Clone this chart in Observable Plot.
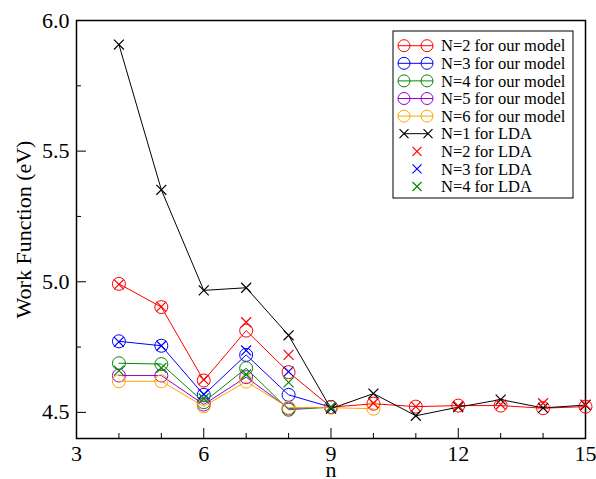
<!DOCTYPE html>
<html>
<head>
<meta charset="utf-8">
<script src="https://cdn.jsdelivr.net/npm/d3@7"></script>
<script src="https://cdn.jsdelivr.net/npm/@observablehq/plot@0.6"></script>
<style>
  html, body { margin: 0; padding: 0; background: white; }
  #chart svg { display: block; }
</style>
</head>
<body>
<div id="chart"></div>
<script>
// ---- data ----
const ns = [4, 5, 6, 7, 8, 9, 10, 11, 12, 13, 14, 15];
const model_N2 = [4.992, 4.903, 4.622, 4.813, 4.654, 4.520, 4.533, 4.522, 4.526, 4.526, 4.516, 4.522];
const model_N3 = [4.772, 4.755, 4.567, 4.720, 4.567, 4.520];
const model_N4 = [4.688, 4.685, 4.539, 4.669, 4.510, 4.520];
const model_N5 = [4.641, 4.641, 4.530, 4.635, 4.515, 4.520];
const model_N6 = [4.619, 4.619, 4.523, 4.618, 4.518, 4.518, 4.514];
const lda_N1 = [5.908, 5.352, 4.967, 4.977, 4.795, 4.514, 4.572, 4.487, 4.520, 4.549, 4.517, 4.528];
const lda_N2 = [4.990, 4.905, 4.625, 4.845, 4.720, 4.520, 4.535, 4.522, 4.525, 4.530, 4.535, 4.530];
const lda_N3 = [4.770, 4.755, 4.570, 4.737, 4.656, 4.520];
const lda_N4 = [4.660, 4.670, 4.553, 4.645, 4.615, 4.520];

const xMajor = [3, 6, 9, 12, 15];
const xMinor = [4, 5, 7, 8, 10, 11, 13, 14];
const yMajor = [4.5, 5.0, 5.5, 6.0];
const yMinor = [4.75, 5.25, 5.75];

const modelSeries = [
  {name: "N=2 for our model", values: model_N2, color: "#ff0000"},
  {name: "N=3 for our model", values: model_N3, color: "#0000ff"},
  {name: "N=4 for our model", values: model_N4, color: "#008b00"},
  {name: "N=5 for our model", values: model_N5, color: "#9400d3"},
  {name: "N=6 for our model", values: model_N6, color: "#ffa500"}
];
const ldaLine = {name: "N=1 for LDA", values: lda_N1, color: "#000000"};
const ldaPoints = [
  {name: "N=2 for LDA", values: lda_N2, color: "#ff0000"},
  {name: "N=3 for LDA", values: lda_N3, color: "#0000ff"},
  {name: "N=4 for LDA", values: lda_N4, color: "#008b00"}
];

const toRows = s => s.values.map((v, i) => ({n: ns[i], w: v, series: s.name, color: s.color}));

const FONT = "'Liberation Serif', 'Times New Roman', serif";
const W = 596, H = 479;
const mL = 76, mR = 11, mT = 20, mB = 41;
const innerW = W - mL - mR, innerH = H - mT - mB;

const marks = [
  Plot.frame({stroke: "black", strokeWidth: 1.5}),
  // inward ticks
  Plot.tickX(xMajor, {x: d => d, insetTop: innerH - 10, stroke: "black", strokeWidth: 1}),
  Plot.tickX(xMinor, {x: d => d, insetTop: innerH - 5, stroke: "black", strokeWidth: 1}),
  Plot.tickY(yMajor, {y: d => d, insetRight: innerW - 10, stroke: "black", strokeWidth: 1}),
  Plot.tickY(yMinor, {y: d => d, insetRight: innerW - 5, stroke: "black", strokeWidth: 1}),
  Plot.axisX(xMajor, {tickSize: 0, tickPadding: 7, tickFormat: d => String(d), fontSize: 22, label: null}),
  Plot.axisY(yMajor, {tickSize: 0, tickPadding: 7, tickFormat: d => d.toFixed(1), fontSize: 22, label: null}),
  Plot.text(["Work Function (eV)"], {frameAnchor: "left", textAnchor: "middle", lineAnchor: "middle", rotate: -90, dx: -53, fontSize: 22}),
  Plot.text(["n"], {frameAnchor: "bottom", textAnchor: "middle", lineAnchor: "middle", dy: 31, fontSize: 22})
];

for (const s of modelSeries) {
  const rows = toRows(s);
  marks.push(Plot.line(rows, {x: "n", y: "w", stroke: s.color, strokeWidth: 1}));
  marks.push(Plot.dot(rows, {x: "n", y: "w", r: 6.5, stroke: s.color, fill: "none", strokeWidth: 1}));
}
{
  const rows = toRows(ldaLine);
  marks.push(Plot.line(rows, {x: "n", y: "w", stroke: ldaLine.color, strokeWidth: 1}));
  marks.push(Plot.dot(rows, {x: "n", y: "w", symbol: "times", r: 4.6, stroke: ldaLine.color, strokeWidth: 1.2}));
}
for (const s of ldaPoints) {
  const rows = toRows(s);
  marks.push(Plot.dot(rows, {x: "n", y: "w", symbol: "times", r: 4.6, stroke: s.color, strokeWidth: 1.2}));
}

const chart = Plot.plot({
  width: W, height: H,
  marginLeft: mL, marginRight: mR, marginTop: mT, marginBottom: mB,
  x: {domain: [3, 15]},
  y: {domain: [4.4, 6.0]},
  style: {fontFamily: FONT, fontSize: "22px", background: "white", color: "black", overflow: "visible"},
  marks
});

// ---- legend (inside the plot frame, top right) ----
const svg = d3.select(chart);
const legendItems = [
  ...modelSeries.map(s => ({name: s.name, color: s.color, kind: "model"})),
  {name: ldaLine.name, color: ldaLine.color, kind: "ldaLine"},
  ...ldaPoints.map(s => ({name: s.name, color: s.color, kind: "ldaPoint"}))
];
const lg = svg.append("g").attr("font-family", FONT).attr("font-size", 16.5).attr("text-anchor", "start");
const bx = 393, by = 31, bw = 180, bh = 167;
lg.append("rect").attr("x", bx).attr("y", by).attr("width", bw).attr("height", bh)
  .attr("fill", "white").attr("stroke", "black").attr("stroke-width", 1);
const rowY0 = 45.7, rowDY = 17.6;
const crossPath = (cx, cy, h) => `M${cx - h},${cy - h}L${cx + h},${cy + h}M${cx - h},${cy + h}L${cx + h},${cy - h}`;
legendItems.forEach((it, i) => {
  const cy = rowY0 + i * rowDY;
  const g = lg.append("g");
  if (it.kind === "model") {
    g.append("line").attr("x1", 398).attr("x2", 433).attr("y1", cy).attr("y2", cy).attr("stroke", it.color);
    [404, 427].forEach(cx => g.append("circle").attr("cx", cx).attr("cy", cy).attr("r", 6)
      .attr("fill", "none").attr("stroke", it.color));
  } else if (it.kind === "ldaLine") {
    g.append("line").attr("x1", 404).attr("x2", 428).attr("y1", cy).attr("y2", cy).attr("stroke", it.color);
    [404, 428].forEach(cx => g.append("path").attr("d", crossPath(cx, cy, 4.5)).attr("stroke", it.color).attr("stroke-width", 1.2));
  } else {
    g.append("path").attr("d", crossPath(417, cy, 4.5)).attr("stroke", it.color).attr("stroke-width", 1.2);
  }
  g.append("text").attr("x", 441).attr("y", cy).attr("dy", "0.35em").attr("text-anchor", "start").attr("fill", "black").text(it.name);
});

document.getElementById("chart").appendChild(chart);
</script>
</body>
</html>
